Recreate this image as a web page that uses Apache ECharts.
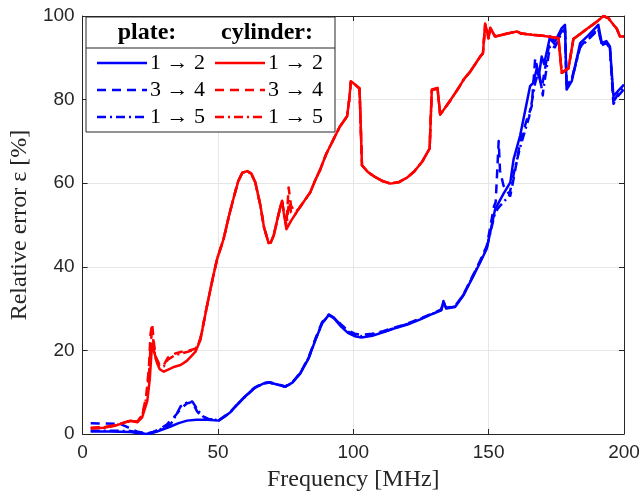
<!DOCTYPE html>
<html>
<head>
<meta charset="utf-8">
<script src="https://cdn.jsdelivr.net/npm/echarts@6/dist/echarts.min.js"></script>
<style>
  html, body { margin: 0; padding: 0; background: #fff; }
  #chart { width: 643px; height: 497px; }
</style>
</head>
<body>
<div id="chart"></div>
<script>
// frequency [MHz] / relative error [%] pairs
const plate12 = [
  [3, 0.6], [10, 0.6], [17.7, 0.5], [21, 0.2], [23.9, 0], [25.5, 0.2], [27.5, 0.6], [30, 1.2], [32.5, 1.8],
  [35.5, 2.6], [38.6, 3.2], [42, 3.4], [46, 3.4], [50.3, 3.2], [52.5, 4.2], [54.6, 5.2], [57.5, 7.3],
  [60.8, 9.4], [63.5, 11], [66.9, 12.1], [69, 12.3], [71.5, 11.9], [74.9, 11.3], [77.5, 12.3], [80.4, 14.5],
  [83.5, 18.1], [86, 22.5], [88.5, 26.5], [91, 28.5], [93, 27.6], [95.5, 25.7], [98, 24.2], [100.5, 23.4],
  [103, 23.1], [107, 23.5], [111, 24.3], [115, 25.2], [120, 26.2], [125, 27.5], [128.4, 28.5], [132.5, 29.6],
  [133.3, 31.8], [134.3, 30], [137.6, 30.4], [140.7, 33.2], [144.4, 37.9], [146.9, 41.1], [149.3, 44.3],
  [152.4, 53.8], [155.5, 57.5], [158, 60.2], [159.2, 65.7], [161.6, 71.3], [165.3, 83.2], [166.5, 84],
  [167.8, 87.5], [168.5, 85.5], [169.6, 90.3], [170.5, 88.5], [172.7, 95.1], [174.5, 93.9], [177, 97.1],
  [178.2, 97.9], [178.8, 82.4], [180.7, 84.4], [183.8, 93.5], [187, 95.5], [190.5, 97.9], [191.8, 93.5],
  [193.5, 94], [194.8, 92.7], [196.1, 80.8], [198, 82.2], [200, 83.6]
];
const plate34 = [
  [3, 2.6], [8, 2.5], [14, 2.4], [17, 1.5], [20, 0.6], [23.9, 0.1], [26, 0.5], [28.5, 1.2], [31, 2.2],
  [34, 4.2], [36.5, 6.2], [38.5, 7.3], [40.5, 7.7], [42.3, 5.4], [44, 4.2], [46, 3.6], [50.3, 3.3],
  [52.5, 4.3], [54.6, 5.3], [57.5, 7.4], [60.8, 9.5], [63.5, 11.1], [66.9, 12.2], [69, 12.4], [71.5, 12],
  [74.9, 11.4], [77.5, 12.4], [80.4, 14.6], [83.5, 18.3], [86, 22.8], [88.5, 26.8], [91, 28.6], [93, 27.8],
  [95.5, 26.2], [98, 24.8], [100.5, 24], [103, 23.7], [107, 24], [111, 24.6], [115, 25.4], [120, 26.4],
  [125, 27.7], [128.4, 28.6], [132.5, 29.8], [133.3, 31.5], [134.3, 30.2], [137.6, 30.6], [140.7, 33.4],
  [144.4, 38.2], [146.9, 41.5], [149.3, 45], [152, 54.5], [152.6, 55.5], [153.1, 62], [153.7, 70.1],
  [154.2, 63], [155.5, 59.4], [158, 57], [159.5, 62], [161.6, 69.7], [164, 75], [165.9, 78.4], [167.2, 89.9],
  [168.5, 86], [169.6, 82.8], [171, 88], [172.7, 94.5], [174.5, 93.2], [177, 96.5], [178.2, 97.2],
  [178.8, 84], [180.7, 85], [183.8, 92.7], [187, 94.8], [190.5, 97], [191.8, 93], [193.5, 93.5],
  [194.8, 92.2], [196.1, 79], [198, 81], [200, 82.5]
];
const plate15 = [
  [3, 0.8], [10, 0.8], [17.7, 0.7], [21, 0.3], [23.9, 0.1], [26, 0.4], [29, 1.2], [32.6, 2.4], [34.5, 4.5],
  [36.2, 6.6], [38.5, 7.5], [40.5, 7.8], [42.9, 5.4], [44.5, 4.2], [46.5, 3.6], [50.3, 3.3], [52.5, 4.2],
  [54.6, 5.2], [57.5, 7.3], [60.8, 9.4], [63.5, 11], [66.9, 12.1], [69, 12.3], [71.5, 11.9], [74.9, 11.3],
  [77.5, 12.3], [80.4, 14.5], [83.5, 18.2], [86, 22.6], [88.5, 26.6], [91, 28.4], [93, 27.7], [95.5, 26],
  [98, 24.5], [100.5, 23.7], [103, 23.4], [107, 23.8], [111, 24.4], [115, 25.3], [120, 26.3], [125, 27.6],
  [128.4, 28.5], [132.5, 29.7], [133.3, 31.6], [134.3, 30.1], [137.6, 30.5], [140.7, 33.3], [144.4, 38],
  [146.9, 41.3], [149.3, 44.6], [152.4, 53], [154.2, 54.6], [155.5, 55.5], [157.6, 57], [159.5, 63],
  [161.6, 68.5], [165, 76], [167.2, 84], [168.5, 87], [170, 81], [170.2, 82.4], [172.7, 93], [174.5, 92.5],
  [177, 96], [178.2, 97], [178.8, 83.5], [180.7, 84.8], [183.8, 92.5], [187, 94.5], [190.5, 96.8],
  [191.8, 93.2], [193.5, 93.6], [194.8, 92.4], [196.1, 79.5], [198, 81.5], [200, 83]
];
const cyl12 = [
  [3, 1.3], [8, 1.5], [12, 2], [15, 2.6], [17.7, 3.2], [20.2, 2.8], [22, 4], [23.9, 7.9], [24.8, 13],
  [25.4, 19], [25.8, 21.5], [26.5, 19.5], [27.5, 17], [28.5, 15.5], [30, 14.9], [32, 15.5], [34, 16.1],
  [36.2, 16.5], [38.5, 17.5], [40, 18.5], [41.7, 19.7], [43.5, 22.5], [46, 30.8], [48, 37], [49.7, 41.9],
  [52.1, 46.7], [54, 52], [56, 57], [57.5, 60.5], [59, 62.5], [60.8, 62.9], [62.3, 62.3], [63.8, 60.2],
  [65.7, 54.6], [67, 49.5], [68.7, 45.7], [69.5, 45.8], [70.6, 47.5], [72, 51.5], [73.3, 55], [73.7, 55.8],
  [74.3, 53], [75.3, 49], [77, 51], [80, 54], [84.1, 57.8], [86, 60.8], [87.8, 63.3], [90, 67],
  [92.7, 70.5], [95, 73.5], [97.7, 76], [98.5, 80], [99.1, 84.4], [102.3, 82.8], [103.2, 64.3],
  [105.5, 62.6], [107.5, 61.7], [110.5, 60.6], [113.7, 59.9], [117, 60.3], [119.8, 61.3], [122.5, 62.8],
  [125.5, 65.2], [128.2, 68.3], [129, 82.4], [131.1, 82.8], [132.1, 76.4], [135.5, 79.5], [138.9, 82.8],
  [141, 85], [143.2, 86.7], [146.9, 90.3], [147.9, 91.1], [148.7, 98.2], [149.3, 98.6], [149.9, 94.7],
  [150.6, 97.2], [151.2, 97.5], [152.4, 95.1], [153, 95.5], [157, 95.8], [160.4, 96.3], [162, 95.8],
  [166, 95.5], [170, 95.3], [175.8, 94.7], [177, 86.4], [179.5, 87.5], [181.3, 94.5], [183.8, 95.7],
  [186.5, 97], [189.9, 98.6], [192.4, 100], [194.2, 99.5], [196.1, 97.9], [197.3, 97], [198.5, 95.1],
  [200, 95.1]
];
const cyl34 = [
  [3, 1.5], [8, 1.7], [12, 2.1], [15, 2.7], [17.7, 3.2], [20.2, 3], [22, 4.5], [23.5, 9], [24.5, 16],
  [25.1, 24], [25.7, 26.4], [26.3, 22], [27, 18.5], [28.5, 16.5], [30, 16.5], [31.5, 18.3], [34, 19.2],
  [36.2, 19.6], [38.5, 19.9], [40, 20.1], [41.7, 20.4], [43.5, 22.8], [46, 30.8], [48, 37], [49.7, 41.9],
  [52.1, 46.7], [54, 52], [56, 57], [57.5, 60.5], [59, 62.5], [60.8, 62.9], [62.3, 62.3], [63.8, 60.2],
  [65.7, 54.6], [67, 49.5], [68.7, 45.7], [69.5, 45.8], [70.6, 47.5], [72, 51.5], [73.3, 55], [73.7, 55.5],
  [74.3, 53], [75.3, 50], [76.1, 59], [77, 54.6], [78.5, 53], [80, 54], [84.1, 57.8], [86, 60.8],
  [87.8, 63.3], [90, 67], [92.7, 70.5], [95, 73.5], [97.7, 76], [98.5, 80], [99.1, 84.2], [102.3, 82.6],
  [103.2, 64.3], [105.5, 62.6], [107.5, 61.7], [110.5, 60.6], [113.7, 59.9], [117, 60.3], [119.8, 61.3],
  [122.5, 62.8], [125.5, 65.2], [128.2, 68.3], [129, 82.2], [131.1, 82.6], [132.1, 76.4], [135.5, 79.5],
  [138.9, 82.8], [141, 85], [143.2, 86.7], [146.9, 90.3], [147.9, 91.1], [148.7, 97.8], [149.3, 98.2],
  [149.9, 94.7], [150.6, 97], [151.2, 97.3], [152.4, 95.1], [153, 95.5], [157, 95.8], [160.4, 96.3],
  [162, 95.8], [166, 95.5], [170, 95.3], [175.8, 94.7], [177, 86.4], [179.5, 87.5], [181.3, 94.5],
  [183.8, 95.7], [186.5, 97], [189.9, 98.6], [192.4, 100], [194.2, 99.5], [196.1, 97.9], [197.3, 97],
  [198.5, 95.1], [200, 95.1]
];
const cyl15 = [
  [3, 1.4], [8, 1.6], [12, 2], [15, 2.6], [17.7, 3.1], [20.2, 2.9], [22, 4.3], [23.5, 8.5], [24.6, 15],
  [25.2, 22], [25.7, 25], [26.3, 21], [27, 18], [28.5, 16.2], [30, 16.2], [31.5, 17.8], [34, 18.8],
  [36.2, 19.2], [38.5, 19.6], [40, 19.9], [41.7, 20.2], [43.5, 22.6], [46, 30.8], [48, 37], [49.7, 41.9],
  [52.1, 46.7], [54, 52], [56, 57], [57.5, 60.5], [59, 62.5], [60.8, 62.9], [62.3, 62.3], [63.8, 60.2],
  [65.7, 54.6], [67, 49.5], [68.7, 45.7], [69.5, 45.8], [70.6, 47.5], [72, 51.5], [73.3, 55], [73.7, 55.6],
  [74.3, 53], [75.3, 49.5], [76.3, 56], [77, 53], [78.5, 52.5], [80, 54], [84.1, 57.8], [86, 60.8],
  [87.8, 63.3], [90, 67], [92.7, 70.5], [95, 73.5], [97.7, 76], [98.5, 80], [99.1, 84.3], [102.3, 82.7],
  [103.2, 64.3], [105.5, 62.6], [107.5, 61.7], [110.5, 60.6], [113.7, 59.9], [117, 60.3], [119.8, 61.3],
  [122.5, 62.8], [125.5, 65.2], [128.2, 68.3], [129, 82.3], [131.1, 82.7], [132.1, 76.4], [135.5, 79.5],
  [138.9, 82.8], [141, 85], [143.2, 86.7], [146.9, 90.3], [147.9, 91.1], [148.7, 98], [149.3, 98.4],
  [149.9, 94.7], [150.6, 97.1], [151.2, 97.4], [152.4, 95.1], [153, 95.5], [157, 95.8], [160.4, 96.3],
  [162, 95.8], [166, 95.5], [170, 95.3], [175.8, 94.7], [177, 86.4], [179.5, 87.5], [181.3, 94.5],
  [183.8, 95.7], [186.5, 97], [189.9, 98.6], [192.4, 100], [194.2, 99.5], [196.1, 97.9], [197.3, 97],
  [198.5, 95.1], [200, 95.1]
];
const legendHead = ['plate:', 'cylinder:'];
const legendRows = ['1 \u2192 2', '3 \u2192 4', '1 \u2192 5'];

const BLUE = '#0000ff';
const RED = '#ff0000';
const AXIS = '#262626';
const SERIF = '"Liberation Serif", "DejaVu Serif", serif';
const DASH = [9, 6];
const DASHDOT = [9, 4, 2, 4];
const styles = ['solid', DASH, DASHDOT];

let chart = echarts.init(document.getElementById('chart'), null, {renderer: 'canvas'});

let mkSeries = (name, data, color, type) => ({
  name: name,
  type: 'line',
  data: data,
  showSymbol: false,
  symbol: 'none',
  clip: true,
  lineStyle: {color: color, width: 2.5, type: type, cap: 'butt', join: 'round'},
  animation: false
});

// legend is a table in the source figure, so draw it as graphics
let legendGraphics = () => {
  let g = [];
  let x0 = 86, y0 = 17, w = 249, h = 115;
  g.push({type: 'rect', shape: {x: x0, y: y0, width: w, height: h},
    style: {fill: '#fff', stroke: AXIS, lineWidth: 1}, z: 100});
  g.push({type: 'line', shape: {x1: x0, y1: 48, x2: x0 + w, y2: 48},
    style: {stroke: AXIS, lineWidth: 1}, z: 101});
  g.push({type: 'text', x: 147, y: 33, style: {text: legendHead[0], font: 'bold 24px ' + SERIF,
    fill: '#000', align: 'center', verticalAlign: 'middle'}, z: 101});
  g.push({type: 'text', x: 267, y: 33, style: {text: legendHead[1], font: 'bold 24px ' + SERIF,
    fill: '#000', align: 'center', verticalAlign: 'middle'}, z: 101});
  let rowsY = [63, 90, 117];
  legendRows.forEach((txt, i) => {
    [[97, BLUE], [215, RED]].forEach(([lx, col]) => {
      g.push({type: 'line', shape: {x1: lx, y1: rowsY[i], x2: lx + 50, y2: rowsY[i]},
        style: {stroke: col, lineWidth: 2.5, lineDash: styles[i] === 'solid' ? null : styles[i]}, z: 101});
      g.push({type: 'text', x: lx + 53, y: rowsY[i], style: {text: txt, font: '22px ' + SERIF,
        fill: '#000', align: 'left', verticalAlign: 'middle'}, z: 101});
    });
  });
  return g;
};

let option = {
  backgroundColor: '#fff',
  animation: false,
  grid: {left: 82, right: 19, top: 16, bottom: 61, containLabel: false},
  xAxis: [
    {
      type: 'value', min: 0, max: 200, interval: 50,
      name: 'Frequency [MHz]', nameLocation: 'middle', nameGap: 34,
      nameTextStyle: {fontFamily: SERIF, fontSize: 24, color: AXIS},
      axisLine: {show: true, onZero: false, lineStyle: {color: AXIS, width: 1}},
      axisTick: {show: true, inside: true, length: 5, lineStyle: {color: AXIS}},
      axisLabel: {fontFamily: 'Liberation Sans, Arial', fontSize: 19, color: AXIS, margin: 9},
      splitLine: {show: true, lineStyle: {color: '#e6e6e6', width: 1}}
    },
    {
      type: 'value', min: 0, max: 200, interval: 50, position: 'top',
      axisLine: {show: true, onZero: false, lineStyle: {color: AXIS, width: 1}},
      axisTick: {show: true, inside: true, length: 5, lineStyle: {color: AXIS}},
      axisLabel: {show: false}, splitLine: {show: false}
    }
  ],
  yAxis: [
    {
      type: 'value', min: 0, max: 100, interval: 20,
      name: 'Relative error \u03b5 [%]', nameLocation: 'middle', nameGap: 45,
      nameTextStyle: {fontFamily: SERIF, fontSize: 24, color: AXIS},
      axisLine: {show: true, onZero: false, lineStyle: {color: AXIS, width: 1}},
      axisTick: {show: true, inside: true, length: 5, lineStyle: {color: AXIS}},
      axisLabel: {fontFamily: 'Liberation Sans, Arial', fontSize: 19, color: AXIS, margin: 8},
      splitLine: {show: true, lineStyle: {color: '#e6e6e6', width: 1}}
    },
    {
      type: 'value', min: 0, max: 100, interval: 20, position: 'right',
      axisLine: {show: true, onZero: false, lineStyle: {color: AXIS, width: 1}},
      axisTick: {show: true, inside: true, length: 5, lineStyle: {color: AXIS}},
      axisLabel: {show: false}, splitLine: {show: false}
    }
  ],
  series: [
    mkSeries('plate 1\u21922', plate12, BLUE, 'solid'),
    mkSeries('plate 3\u21924', plate34, BLUE, DASH),
    mkSeries('plate 1\u21925', plate15, BLUE, DASHDOT),
    mkSeries('cylinder 1\u21922', cyl12, RED, 'solid'),
    mkSeries('cylinder 3\u21924', cyl34, RED, DASH),
    mkSeries('cylinder 1\u21925', cyl15, RED, DASHDOT)
  ],
  graphic: legendGraphics()
};

chart.setOption(option);
</script>
</body>
</html>
